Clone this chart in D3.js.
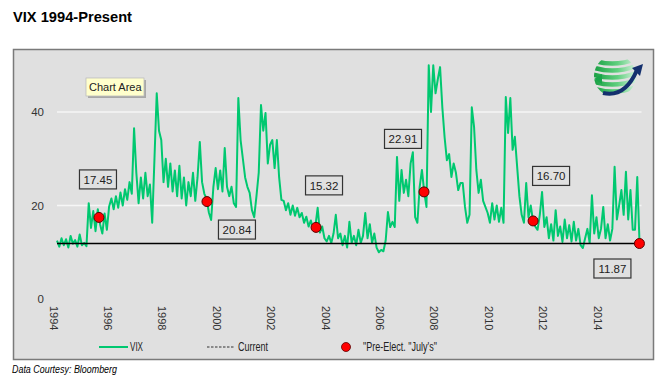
<!DOCTYPE html>
<html>
<head>
<meta charset="utf-8">
<script src="https://cdn.jsdelivr.net/npm/d3@7"></script>
<style>
  body { margin: 0; background: #fff; }
  svg { display: block; }
</style>
</head>
<body>
<script>
// data (monthly, decimal years)
const vixStart = 1994.147;
const vixStep = 1 / 12;
const vix = [
  12.5, 11.2, 13.0, 11.5, 12.8, 11.0, 13.5, 11.8, 12.6, 11.2, 13.8, 11.5,
  12.0, 11.3, 20.5, 15.2, 18.8, 14.5, 19.2, 16.0, 14.0, 18.3, 14.8, 19.8,
  21.5, 19.2, 22.0, 19.5, 22.8, 20.0, 23.5, 21.2, 25.0, 22.5, 36.5, 27.0,
  20.5, 26.0, 21.5, 27.0, 22.0, 24.5, 16.3, 30.0, 44.0, 36.0, 34.0, 25.0,
  30.0, 24.0, 29.0, 23.0, 27.5, 22.0, 28.5, 21.5, 26.0, 20.0, 25.0, 22.0,
  27.0, 21.0, 26.0, 33.6, 25.0, 22.5, 21.5, 18.5, 16.9, 24.0, 28.0, 23.5,
  27.5, 23.0, 32.3, 24.0, 22.0, 24.0, 20.5, 19.7, 43.0, 34.0, 30.0, 26.0,
  24.0, 22.7, 19.0, 17.5, 22.0, 27.0, 41.5, 36.0, 39.8, 29.0, 33.0, 34.0,
  28.0, 34.0, 26.0, 21.2, 21.0, 19.0, 20.5, 18.0, 20.0, 17.8, 19.5, 17.5,
  18.4, 16.3, 17.6, 15.5, 16.8, 15.0, 15.6, 19.5, 14.2, 15.5, 13.0, 12.3,
  13.5, 12.0, 14.0, 18.0, 13.0, 14.0, 11.5, 13.5, 11.0, 16.5, 12.0, 13.5,
  11.5, 14.8, 12.0, 13.5, 18.4, 13.0, 16.0, 12.0, 14.0, 11.0, 10.0, 10.5,
  10.2, 12.5, 18.6, 15.4, 16.5, 15.4, 30.4, 21.0, 27.6, 22.7, 25.5, 22.0,
  29.0, 31.4, 17.5, 16.3, 24.0, 27.6, 22.9, 19.7, 50.0, 40.0, 50.0, 44.0,
  47.0, 49.6, 41.0, 34.6, 29.7, 31.0, 26.1, 29.0, 27.0, 23.3, 24.8, 24.8,
  19.7, 16.3, 18.0, 41.0, 36.8, 27.6, 22.7, 25.5, 21.0, 19.7, 18.4, 16.3,
  20.5, 17.0, 20.0, 16.5, 19.5, 16.3, 43.2, 35.5, 43.0, 31.9, 34.7, 28.3,
  22.0, 18.0, 16.3, 24.8, 17.5, 20.0, 16.7, 15.5, 14.8, 18.0, 22.9, 15.4,
  17.5, 13.0, 16.0, 12.5, 19.0, 13.5, 15.5, 12.2, 17.0, 13.0, 15.8, 12.3,
  16.5, 12.5, 15.0, 11.5, 10.9, 13.0, 15.0, 12.0, 22.2, 14.0, 17.5, 13.0,
  15.0, 19.7, 13.0, 16.0, 12.5, 15.0, 28.3, 17.0, 20.0, 23.3, 18.0, 27.2,
  17.0, 23.3, 14.8, 14.8, 26.1, 11.87
];
const current = 11.87;
const julyDates = [1995.69, 1999.66, 2003.67, 2007.64, 2011.65, 2015.56];
const julyValues = [17.45, 20.84, 15.32, 22.91, 16.70, 11.87];
const xTicks = [1994, 1996, 1998, 2000, 2002, 2004, 2006, 2008, 2010, 2012, 2014];
const yTicks = [0, 20, 40];
const legendLabels = ["VIX", "Current", "\"Pre-Elect. \"July's\""];

// layout
const W = 664, H = 384;
const GREEN = "#00c870";
const BG = "#e0e0e0";
const labelOffsets = [[-1, -38], [30, 28], [8, -42], [-21, -53], [18, -45], [-27, 25]];
const legendX = [130, 238, 363];
const legendW = [13, 30, 74]; // the original uses a narrow face

const svg = d3.select("body").append("svg")
  .attr("width", W)
  .attr("height", H)
  .style("font-family", "'Liberation Sans', Arial, sans-serif");

const x = d3.scaleLinear().domain([1994, 2014]).range([53, 597]);
const y = d3.scaleLinear().domain([0, 50]).range([299, 65.25]);

// title + footer
svg.append("text")
  .attr("x", 13).attr("y", 22)
  .attr("font-size", 14.5).attr("font-weight", "bold")
  .attr("textLength", 119).attr("lengthAdjust", "spacingAndGlyphs")
  .text("VIX 1994-Present");

svg.append("text")
  .attr("x", 12).attr("y", 373)
  .attr("font-size", 11).attr("font-style", "italic")
  .attr("textLength", 105).attr("lengthAdjust", "spacingAndGlyphs")
  .text("Data Courtesy: Bloomberg");

// chart area box
svg.append("rect")
  .attr("x", 13.5).attr("y", 49.5)
  .attr("width", 640).attr("height", 310)
  .attr("fill", BG)
  .attr("stroke", "#7a7a7a").attr("stroke-width", 1.5);

// gridlines
const xFirst = vixStart, xLast = vixStart + (vix.length - 1) * vixStep;
svg.append("g").selectAll("line")
  .data(yTicks.filter(d => d > 0))
  .join("line")
  .attr("x1", x(xFirst)).attr("x2", x(xLast) + 2)
  .attr("y1", d => y(d)).attr("y2", d => y(d))
  .attr("stroke", "#f6f6f6").attr("stroke-width", 1.5);

// y axis (labels only)
const gy = svg.append("g")
  .attr("transform", "translate(44,0)")
  .call(d3.axisLeft(y).tickValues(yTicks).tickSize(0).tickPadding(0));
gy.select(".domain").remove();
gy.selectAll("text").attr("font-size", 11.5).attr("fill", "#333")
  .style("font-family", "'Liberation Sans', Arial, sans-serif");

// x axis (rotated labels)
const gx = svg.append("g")
  .attr("transform", "translate(0,306)")
  .call(d3.axisBottom(x).tickValues(xTicks).tickFormat(d3.format("d")).tickSize(0).tickPadding(0));
gx.select(".domain").remove();
gx.selectAll("text")
  .attr("font-size", 11).attr("fill", "#333")
  .attr("transform", "rotate(90)")
  .attr("text-anchor", "start")
  .attr("x", 0).attr("y", 0).attr("dy", "0.35em")
  .style("font-family", "'Liberation Sans', Arial, sans-serif");

// VIX line
const series = vix.map((v, i) => [vixStart + i * vixStep, v]);
svg.append("path")
  .datum(series)
  .attr("fill", "none")
  .attr("stroke", GREEN)
  .attr("stroke-width", 2)
  .attr("stroke-linejoin", "round")
  .attr("d", d3.line().x(d => x(d[0])).y(d => y(d[1])));

// current level
svg.append("line")
  .attr("x1", x(xFirst)).attr("x2", x(julyDates[julyDates.length - 1]))
  .attr("y1", y(current)).attr("y2", y(current))
  .attr("stroke", "#000").attr("stroke-width", 1.5);

// pre-election July dots + value boxes
const july = julyDates.map((d, i) => ({ t: d, v: julyValues[i], off: labelOffsets[i] }));
svg.append("g").selectAll("circle")
  .data(july)
  .join("circle")
  .attr("cx", d => x(d.t)).attr("cy", d => y(d.v))
  .attr("r", 5)
  .attr("fill", "#ff0000").attr("stroke", "#5a0000").attr("stroke-width", 1);

const boxes = svg.append("g").selectAll("g")
  .data(july)
  .join("g")
  .attr("transform", d => `translate(${x(d.t) + d.off[0]},${y(d.v) + d.off[1]})`);
boxes.append("rect")
  .attr("x", -18.5).attr("y", -9.5)
  .attr("width", 37).attr("height", 19)
  .attr("fill", BG)
  .attr("stroke", "#333").attr("stroke-width", 1.2);
boxes.append("text")
  .attr("text-anchor", "middle").attr("dy", "0.36em")
  .attr("font-size", 11.5).attr("fill", "#222")
  .text(d => d.v.toFixed(2));

// legend
const lg = svg.append("g")
  .attr("transform", "translate(0,347)")
  .attr("font-size", 12).attr("fill", "#222");
lg.append("line").attr("x1", 99).attr("x2", 128)
  .attr("stroke", GREEN).attr("stroke-width", 2);
lg.append("line").attr("x1", 207).attr("x2", 235)
  .attr("stroke", "#333").attr("stroke-width", 1.2).attr("stroke-dasharray", "2.5,1.5");
lg.append("circle").attr("cx", 346).attr("r", 4.5)
  .attr("fill", "#ff0000").attr("stroke", "#5a0000").attr("stroke-width", 0.8);
lg.selectAll("text")
  .data(legendLabels)
  .join("text")
  .attr("x", (d, i) => legendX[i])
  .attr("dy", "0.35em")
  .attr("textLength", (d, i) => legendW[i])
  .attr("lengthAdjust", "spacingAndGlyphs")
  .text(d => d);

// logo (globe with arrows), top right
const logo = svg.append("g").attr("transform", "translate(615,76)");
const defs = svg.append("defs");
const grad = defs.append("linearGradient").attr("id", "globeGrad")
  .attr("x1", "0").attr("x2", "1").attr("y1", "0").attr("y2", "0");
grad.append("stop").attr("offset", "0").attr("stop-color", "#119a3c");
grad.append("stop").attr("offset", "0.55").attr("stop-color", "#5fcf7e");
grad.append("stop").attr("offset", "1").attr("stop-color", "#e6f6ea");
defs.append("clipPath").attr("id", "globeClip")
  .append("circle").attr("r", 21);
const bands = [-16, -9, -2, 5, 12];
logo.append("g").attr("clip-path", "url(#globeClip)")
  .selectAll("path")
  .data(bands)
  .join("path")
  .attr("d", d => `M-24,${d} Q0,${d + 8} 24,${d - 2}`)
  .attr("fill", "none")
  .attr("stroke", "url(#globeGrad)")
  .attr("stroke-width", 4.5);
logo.append("path")
  .attr("d", "M-12,17 Q10,22 22,-6")
  .attr("fill", "none").attr("stroke", "#14306e").attr("stroke-width", 4);
logo.append("path")
  .attr("d", "M17,-8 L28,-12 L25,0 Z")
  .attr("fill", "#14306e");
logo.append("path")
  .attr("d", "M-21,3 L-13,-2 L-13,8 Z")
  .attr("fill", "#1aa54a");

// "Chart Area" hover tip
const tip = svg.append("g").attr("transform", "translate(86,78)");
tip.append("rect").attr("x", 2).attr("y", 2).attr("width", 58).attr("height", 18)
  .attr("fill", "#000").attr("opacity", 0.25);
tip.append("rect").attr("width", 58).attr("height", 18)
  .attr("fill", "#ffffcc").attr("stroke", "#bdbdbd").attr("stroke-width", 0.8);
tip.append("text").attr("x", 3).attr("y", 13)
  .attr("font-size", 11).attr("fill", "#222")
  .text("Chart Area");
</script>
</body>
</html>
